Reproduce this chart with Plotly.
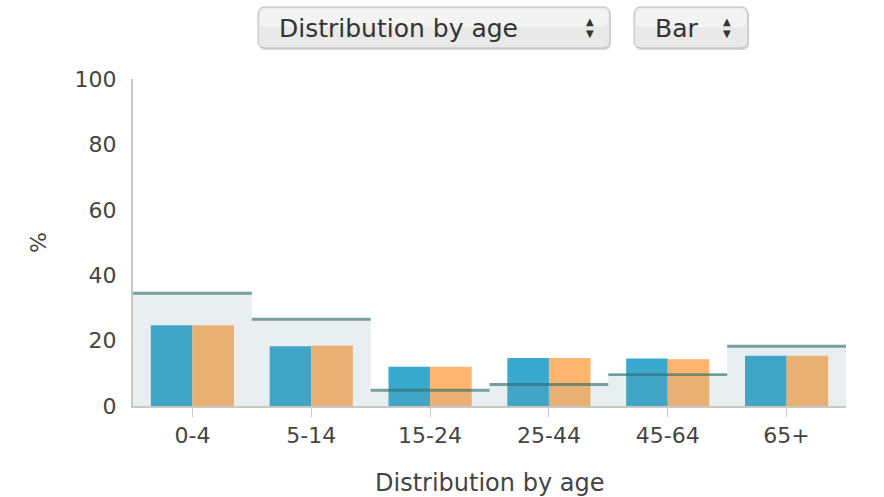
import plotly.graph_objects as go

# Age groups and shares (%)
categories = ["0-4", "5-14", "15-24", "25-44", "45-64", "65+"]
series_a = [24.7, 18.3, 12.0, 14.7, 14.5, 15.4]
series_b = [24.7, 18.4, 12.0, 14.7, 14.3, 15.4]
reference = [34.5, 26.5, 4.8, 6.6, 9.6, 18.3]
y_ticks = [0, 20, 40, 60, 80, 100]
x_title = "Distribution by age"

W, H = 884, 497
ML, MR, MT, MB = 133, 38, 79, 91
PW, PH = W - ML - MR, H - MT - MB

FONT = "DejaVu Sans"
TEXT = "#444444"
AXIS = "#c9c9c1"

idx = list(range(len(categories)))
line_thick = 0.9

fig = go.Figure()
fig.add_trace(go.Bar(x=idx, y=series_a, width=0.35, offset=-0.35,
                     marker=dict(color="#3aa9d0", line=dict(width=0)),
                     hoverinfo="skip"))
fig.add_trace(go.Bar(x=idx, y=series_b, width=0.35, offset=0,
                     marker=dict(color="#ffb56e", line=dict(width=0)),
                     hoverinfo="skip"))
# translucent reference band over the bars
fig.add_trace(go.Bar(x=idx, y=reference, width=1, offset=-0.5,
                     marker=dict(color="rgba(108,148,155,0.15)", line=dict(width=0)),
                     hoverinfo="skip"))
# reference level marker on top of each band
fig.add_trace(go.Bar(x=idx, y=[line_thick] * len(reference),
                     base=[r - line_thick / 2 for r in reference],
                     width=1, offset=-0.5,
                     marker=dict(color="rgba(50,110,110,0.65)", line=dict(width=0)),
                     hoverinfo="skip"))


def px_x(p):
    return (p - ML) / PW


def px_y(p):
    return (H - MB - p) / PH


def rounded_box(x0, y0, x1, y1, r):
    """Rounded rectangle path in paper coordinates from pixel bounds."""
    X = px_x
    Y = px_y
    return (f"M {X(x0 + r)} {Y(y0)} L {X(x1 - r)} {Y(y0)} "
            f"Q {X(x1)} {Y(y0)} {X(x1)} {Y(y0 + r)} "
            f"L {X(x1)} {Y(y1 - r)} Q {X(x1)} {Y(y1)} {X(x1 - r)} {Y(y1)} "
            f"L {X(x0 + r)} {Y(y1)} Q {X(x0)} {Y(y1)} {X(x0)} {Y(y1 - r)} "
            f"L {X(x0)} {Y(y0 + r)} Q {X(x0)} {Y(y0)} {X(x0 + r)} {Y(y0)} Z")


shapes = []
annotations = []
selectors = [
    (258, 610, "Distribution by age", 277, 590),
    (634, 748, "Bar", 653, 727),
]
for x0, x1, label, tx, ax in selectors:
    shapes.append(dict(type="path", xref="paper", yref="paper",
                       path=rounded_box(x0 + 1, 9, x1 + 1, 50, 7),
                       fillcolor="#d6d6d6", line=dict(width=0), layer="above"))
    shapes.append(dict(type="path", xref="paper", yref="paper",
                       path=rounded_box(x0, 7, x1, 48, 7),
                       fillcolor="#e9e9e9", line=dict(color="#bdbdbd", width=1),
                       layer="above"))
    shapes.append(dict(type="path", xref="paper", yref="paper",
                       path=rounded_box(x0 + 2, 9, x1 - 2, 27, 6),
                       fillcolor="rgba(255,255,255,0.45)", line=dict(width=0),
                       layer="above"))
    annotations.append(dict(text=label, xref="paper", yref="paper",
                            x=px_x(tx), y=px_y(28), xanchor="left", yanchor="middle",
                            showarrow=False, font=dict(family=FONT, size=25, color="#333333")))
    annotations.append(dict(text="▲", xref="paper", yref="paper",
                            x=px_x(ax), y=px_y(22), xanchor="center", yanchor="middle",
                            showarrow=False, font=dict(family=FONT, size=10, color="#333333")))
    annotations.append(dict(text="▼", xref="paper", yref="paper",
                            x=px_x(ax), y=px_y(34), xanchor="center", yanchor="middle",
                            showarrow=False, font=dict(family=FONT, size=10, color="#333333")))

# x-axis title placed below the tick labels
annotations.append(dict(text=x_title, xref="paper", yref="paper",
                        x=px_x(489), y=px_y(483), xanchor="center", yanchor="middle",
                        showarrow=False, font=dict(family=FONT, size=24, color=TEXT)))

fig.update_layout(
    width=W, height=H,
    margin=dict(l=ML, r=MR, t=MT, b=MB, autoexpand=False),
    paper_bgcolor="white", plot_bgcolor="white",
    barmode="overlay",
    showlegend=False,
    font=dict(family=FONT, color=TEXT),
    shapes=shapes,
    annotations=annotations,
    xaxis=dict(range=[-0.5, len(categories) - 0.5], tickmode="array",
               tickvals=idx, ticktext=categories,
               showgrid=False, zeroline=False, automargin=False,
               showline=True, linecolor=AXIS, linewidth=2,
               ticks="outside", ticklen=9, tickcolor=AXIS, tickwidth=1,
               tickfont=dict(size=22, color=TEXT)),
    yaxis=dict(range=[0, 100], tickmode="array", tickvals=y_ticks,
               showgrid=False, zeroline=False, automargin=False,
               showline=True, linecolor=AXIS, linewidth=2,
               ticks="", ticklabelstandoff=10,
               tickfont=dict(size=22, color=TEXT),
               title=dict(text="%", standoff=22,
                          font=dict(size=22, color=TEXT))),
)

fig.write_html("out.html")
